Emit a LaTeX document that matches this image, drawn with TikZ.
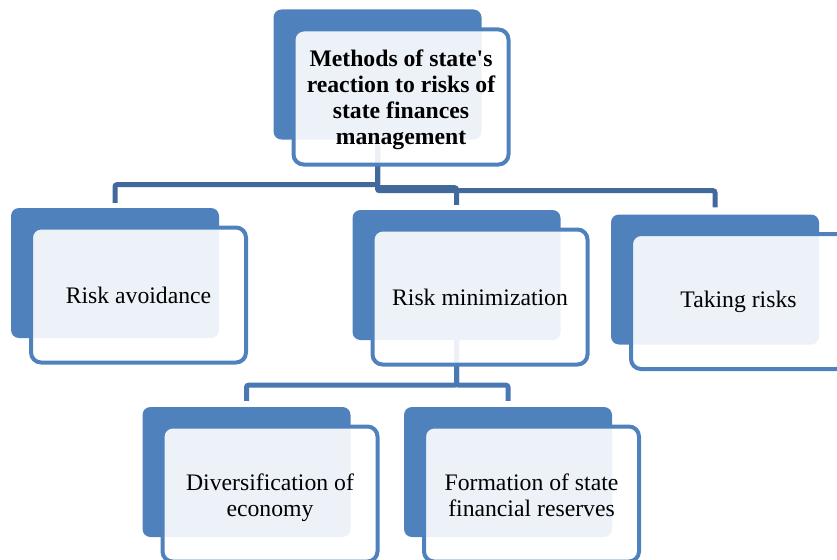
\documentclass[tikz,border=0pt]{standalone}
\usepackage{fontspec}
\setmainfont{Liberation Serif}
\usetikzlibrary{backgrounds}
\definecolor{boxblue}{HTML}{4F81BD}
\definecolor{linkblue}{HTML}{41699C}
\definecolor{sublink}{HTML}{4A78B2}
\newcommand{\lowertext}[1]{\rule{0pt}{#1}}
\tikzset{
  backbox/.style={fill=boxblue,rounded corners=8pt,minimum width=208pt,minimum height=130pt,inner sep=0pt},
  frontbox/.style={draw=boxblue,line width=4pt,fill=white,fill opacity=0.9,text opacity=1,rounded corners=10pt,
    minimum width=215pt,minimum height=135pt,inner sep=0pt,align=center,font=\fontsize{23.7}{26}\selectfont},
  link/.style={draw=linkblue,line width=5pt,rounded corners=2pt}
}

\begin{document}
\begin{tikzpicture}[x=1pt,y=-1pt]
\path[use as bounding box,clip] (0,0) rectangle (837,559);
% top box
\node[backbox] (btop) at (377.5,74.5) {};
\node[frontbox,font=\fontsize{23.7}{26}\selectfont\bfseries] (ftop) at (401,97)
  {\lowertext{22.5pt}Methods of state\textquotesingle s\\reaction to risks of\\state finances\\management};
% the other boxes
\foreach \n/\x/\y/\txt in {avoid/115/273/{Risk avoidance},mini/456.5/275/{Risk minimization},take/715/279.5/{Taking risks},divers/246.5/472/{\lowertext{24.5pt}Diversification of\\economy},reserve/508/472/{\lowertext{24.5pt}Formation of state\\financial reserves\rule[-5pt]{0pt}{0pt}}} {
  \node[backbox] (b\n) at (\x,\y) {};
  \node[frontbox] (f\n) at (\x+23.5,\y+22) {\txt};
}
\begin{scope}[on background layer]
\draw[link] (btop.south) -- ++(0,45) -| ([yshift=5pt]bavoid.north);
\draw[link] (btop.south) -- ++(0,48) -| ([yshift=5pt]bmini.north);
\draw[link] (btop.south) -- ++(0,51) -| ([yshift=7pt]btake.north);
\draw[link,draw=sublink] (bmini.south) -- ++(0,45) -| ([yshift=6pt]bdivers.north);
\draw[link,draw=sublink] (bmini.south) -- ++(0,45) -| ([yshift=6pt]breserve.north);
\end{scope}
\end{tikzpicture}
\end{document}
